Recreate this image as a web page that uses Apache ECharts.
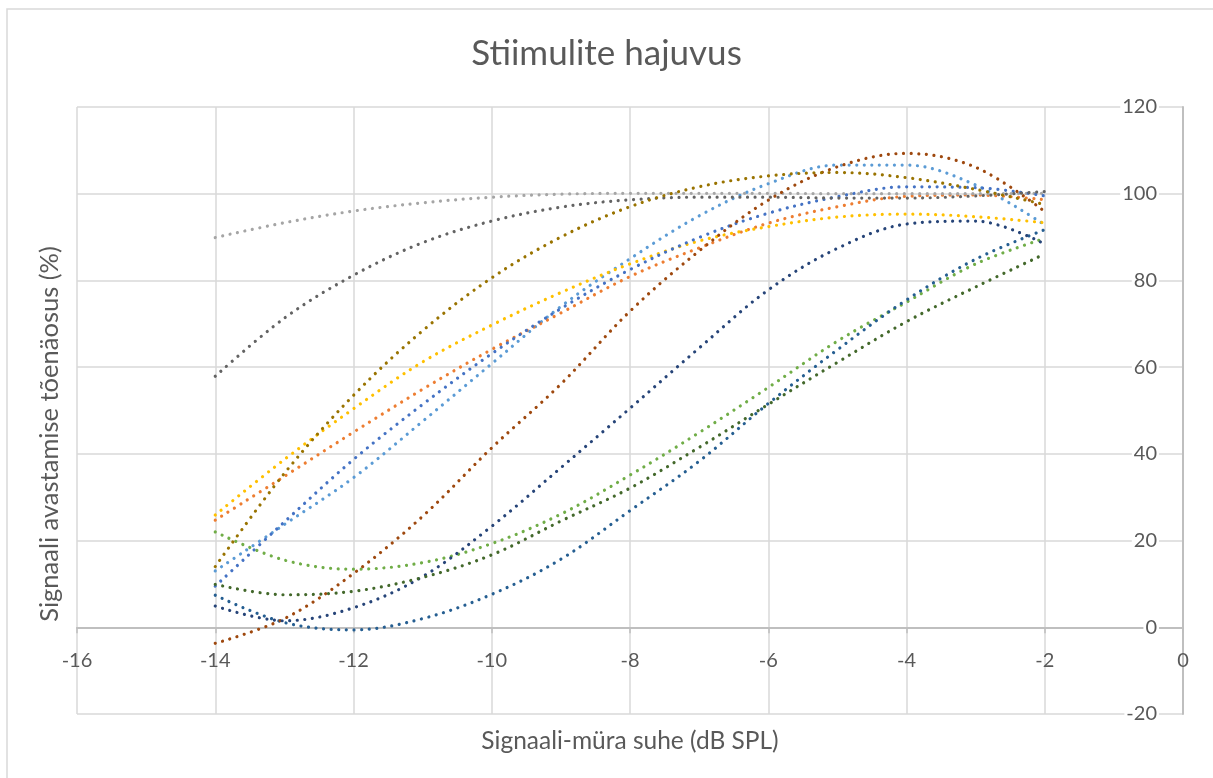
<!DOCTYPE html>
<html>
<head>
<meta charset="utf-8">
<script src="https://cdn.jsdelivr.net/npm/echarts@6/dist/echarts.min.js"></script>
<style>
html,body{margin:0;padding:0;background:#fff;}
#chart{width:1213px;height:778px;}
</style>
</head>
<body>
<div id="chart"></div>
<script>
var titleText = 'Stiimulite hajuvus';
var xAxisName = 'Signaali-müra suhe (dB SPL)';
var yAxisName = 'Signaali avastamise tõenäosus (%)';

var xValues = [-14, -13, -12, -11, -10, -9, -8, -7, -6, -5, -4, -3, -2];

var s1 = [13.0, 23.7, 34.5, 47.5, 60.8, 74.0, 85.0, 94.9, 102.3, 106.6, 106.6, 102.0, 92.8];
var s2 = [24.7, 34.8, 45.0, 54.9, 64.1, 72.5, 80.9, 87.5, 93.2, 97.0, 99.4, 99.7, 98.6];
var s3 = [89.9, 93.3, 96.0, 97.9, 99.2, 99.9, 100.1, 100.1, 100.1, 100.0, 100.0, 100.0, 100.1];
var s4 = [25.9, 38.7, 50.4, 61.2, 69.7, 77.2, 83.8, 89.1, 92.4, 94.6, 95.3, 94.7, 93.3];
var s5 = [9.5, 24.3, 38.7, 51.4, 63.1, 73.5, 82.5, 89.9, 95.5, 99.3, 101.6, 101.4, 99.5];
var s6 = [22.0, 15.5, 13.4, 14.9, 19.3, 26.1, 35.1, 44.9, 55.3, 66.0, 75.0, 83.8, 89.7];
var s7 = [7.4, 1.1, -0.6, 2.0, 7.6, 15.7, 26.9, 38.3, 51.6, 64.0, 75.5, 84.9, 91.7];
var s8 = [-3.7, 2.0, 12.4, 25.6, 41.4, 56.1, 72.9, 86.8, 98.5, 106.2, 109.3, 106.1, 95.9];
var s9 = [57.9, 71.3, 81.2, 88.7, 93.7, 96.9, 98.6, 99.2, 99.2, 99.0, 99.0, 99.5, 100.5];
var s10 = [14.0, 35.5, 53.5, 68.4, 80.6, 90.0, 97.0, 101.6, 104.1, 104.9, 103.7, 101.0, 97.5];
var s11 = [4.9, 1.5, 4.5, 11.7, 23.3, 36.8, 50.5, 64.4, 77.8, 87.4, 93.0, 93.7, 88.4];
var s12 = [9.9, 7.5, 8.3, 11.5, 16.7, 24.5, 32.1, 41.5, 51.4, 61.1, 70.5, 78.5, 86.1];

var seriesValues = [s1, s2, s3, s4, s5, s6, s7, s8, s9, s10, s11, s12];
var seriesColors = ['#5B9BD5', '#ED7D31', '#A5A5A5', '#FFC000', '#4472C4', '#70AD47',
                    '#255E91', '#9E480E', '#636363', '#997300', '#264478', '#43682B'];

var xMin = -16, xMax = 0, xInterval = 2;
var yMin = -20, yMax = 120, yInterval = 20;

var textColor = '#595959';
var font = 'Lato, "Open Sans", sans-serif';

var gridTop = 107, gridBottom = 64, chartH = 778;
var plotH = chartH - gridTop - gridBottom;
// x axis sits at y = 0: shift it up from the bottom edge by the height of (0 - yMin)
var xAxisOffset = -plotH * (0 - yMin) / (yMax - yMin);

var chart = echarts.init(document.getElementById('chart'));

var series = seriesValues.map(function (vals, i) {
  return {
    name: 'Stiimul ' + (i + 1),
    type: 'line',
    smooth: 0.35,
    showSymbol: false,
    data: xValues.map(function (x, j) { return [x, vals[j]]; }),
    lineStyle: { color: seriesColors[i], width: 3.2, type: [0.01, 7.6], cap: 'round' },
    itemStyle: { color: seriesColors[i] },
    z: 3 + i
  };
});

chart.setOption({
  animation: false,
  backgroundColor: '#fff',
  title: {
    text: titleText,
    left: 'center',
    top: 31,
    textStyle: { color: textColor, fontSize: 35, fontWeight: 'normal', fontFamily: font }
  },
  grid: { left: 77, right: 30, top: gridTop, bottom: gridBottom, containLabel: false, outerBoundsMode: 'none' },
  xAxis: {
    type: 'value',
    min: xMin, max: xMax, interval: xInterval,
    offset: xAxisOffset,
    axisLine: { onZero: false, lineStyle: { color: '#BFBFBF', width: 2 } },
    axisTick: { show: true, length: 6, lineStyle: { color: '#BFBFBF', width: 1.5 } },
    axisLabel: { color: textColor, fontSize: 20, fontFamily: font, margin: 23, showMinLabel: true, showMaxLabel: true },
    splitLine: { show: true, lineStyle: { color: '#D9D9D9', width: 1.5 } },
    name: xAxisName,
    nameLocation: 'middle',
    nameGap: 101,
    nameTextStyle: { color: textColor, fontSize: 24.5, fontFamily: font }
  },
  yAxis: {
    type: 'value',
    position: 'right',
    min: yMin, max: yMax, interval: yInterval,
    axisLine: { show: true, onZero: false, lineStyle: { color: '#BFBFBF', width: 2 } },
    axisTick: { show: false },
    axisLabel: { inside: true, margin: 24, color: textColor, fontSize: 20, fontFamily: font,
                 backgroundColor: '#fff', padding: [0, 2, 0, 2] },
    splitLine: { show: true, lineStyle: { color: '#D9D9D9', width: 1.5 } }
  },
  graphic: [
    {
      type: 'rect',
      shape: { x: 7, y: 9, width: 1230, height: 800 },
      style: { fill: 'none', stroke: '#D9D9D9', lineWidth: 1.5 },
      silent: true, z: -1
    },
    {
      type: 'text',
      x: 50, y: 434,
      rotation: Math.PI / 2,
      style: {
        text: yAxisName, fill: textColor, fontSize: 25.5, fontFamily: font,
        textAlign: 'center', textVerticalAlign: 'middle'
      }
    }
  ],
  series: series
});
</script>
</body>
</html>
